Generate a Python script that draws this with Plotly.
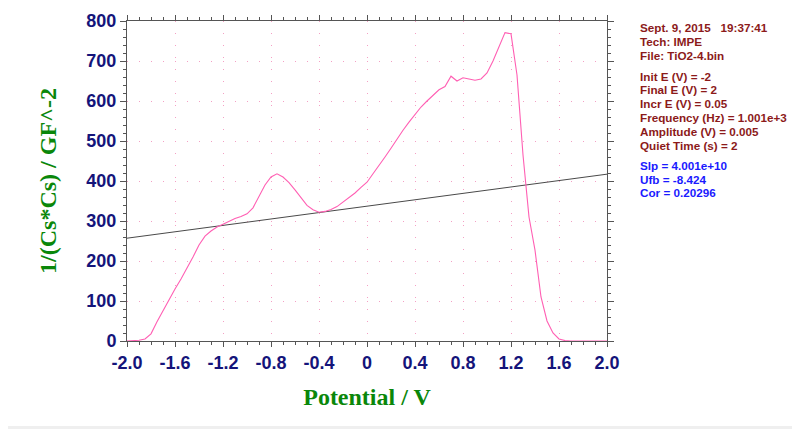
import plotly.graph_objects as go

potential = [round(-2 + 0.05 * i, 2) for i in range(81)]
inv_cs2 = [
    0, 1, 2, 5, 18, 48, 76, 104, 130, 155,
    182, 210, 240, 262, 275, 285, 292, 300, 306, 311,
    318, 333, 360, 390, 410, 418, 410, 396, 378, 358,
    339, 328, 322, 324, 329, 336, 347, 358, 370, 384,
    397, 418, 438, 460, 482, 505, 527, 547, 566, 585,
    600, 615, 628, 636, 662, 650, 658, 655, 652, 655,
    670, 700, 738, 771, 768, 665, 465, 310, 227, 110,
    50, 20, 5, 1, 0, 0, 0, 0, 0, 0,
    0,
]
fit_x = [-2.0, 2.0]
fit_slope = 40.01
fit_ufb = -8.424
fit_y = [fit_slope * (x - fit_ufb) for x in fit_x]

info_red = [
    "Sept. 9, 2015   19:37:41",
    "Tech: IMPE",
    "File: TiO2-4.bin",
    "Init E (V) = -2",
    "Final E (V) = 2",
    "Incr E (V) = 0.05",
    "Frequency (Hz) = 1.001e+3",
    "Amplitude (V) = 0.005",
    "Quiet Time (s) = 2",
]
info_red_y = [27.7, 41.7, 55.7, 76.7, 90.0, 103.7, 117.3, 131.3, 145.0]
info_blue = ["Slp = 4.001e+10", "Ufb = -8.424", "Cor = 0.20296"]
info_blue_y = [165.0, 179.3, 192.7]

x_ticks = [-2.0, -1.6, -1.2, -0.8, -0.4, 0.0, 0.4, 0.8, 1.2, 1.6, 2.0]
x_tick_text = ["-2.0", "-1.6", "-1.2", "-0.8", "-0.4", "0", "0.4", "0.8", "1.2", "1.6", "2.0"]

# the page body adds an 8px offset; lay out in screen pixels minus that offset
OFF = 8
W, H = 800 - OFF, 429 - OFF
L, T = 127 - OFF, 21 - OFF
R = W - (607 - OFF)
B = H - (341 - OFF)
plot_h = H - T - B
plot_w = W - L - R

fig = go.Figure()
fig.add_trace(go.Scatter(x=fit_x, y=fit_y, mode="lines",
                         line=dict(color="#4a4a4a", width=1), hoverinfo="skip"))
fig.add_trace(go.Scatter(x=potential, y=inv_cs2, mode="lines",
                         line=dict(color="#ff5fb3", width=1.1)))

tick_font = dict(family="Liberation Sans, Arial", size=18, color="#14147a", weight="bold")
title_font = dict(family="Liberation Serif, Times New Roman", size=24, color="#0a870a", weight="bold")

fig.update_xaxes(
    range=[-2, 2], tickvals=x_ticks, ticktext=x_tick_text, automargin=False,
    showline=True, linecolor="#555555", linewidth=1, mirror="allticks",
    ticks="outside", ticklen=5, tickcolor="#555555",
    minor=dict(dtick=0.1, ticks="outside", ticklen=3, tickcolor="#555555", showgrid=False),
    showgrid=True, gridcolor="#f4a0c4", griddash="1px,11px", gridwidth=1,
    zeroline=False, tickfont=tick_font, layer="below traces",
    title=dict(text="Potential / V", font=title_font, standoff=16),
)
fig.update_yaxes(
    range=[0, 800], dtick=100, automargin=False,
    showline=True, linecolor="#555555", linewidth=1, mirror="allticks",
    ticks="outside", ticklen=6, tickcolor="#555555",
    minor=dict(dtick=20, ticks="outside", ticklen=3, tickcolor="#555555", showgrid=False),
    showgrid=True, gridcolor="#f4a0c4", griddash="1px,11px", gridwidth=1,
    zeroline=False, tickfont=tick_font, layer="below traces",
    title=dict(text="1/(Cs*Cs) / GF^-2", font=title_font, standoff=22),
)

annotations = []
for txt, yp in zip(info_red, info_red_y):
    annotations.append(dict(text=txt, xref="paper", yref="paper",
                            x=(638 - 127) / plot_w, y=(341 - yp) / plot_h,
                            xanchor="left", yanchor="middle", showarrow=False,
                            font=dict(family="Liberation Sans, Arial", size=11.7,
                                      color="#8c1a1a", weight="bold")))
for txt, yp in zip(info_blue, info_blue_y):
    annotations.append(dict(text=txt, xref="paper", yref="paper",
                            x=(638 - 127) / plot_w, y=(341 - yp) / plot_h,
                            xanchor="left", yanchor="middle", showarrow=False,
                            font=dict(family="Liberation Sans, Arial", size=11.7,
                                      color="#1a1aff", weight="bold")))

fig.update_layout(
    width=W, height=H, margin=dict(l=L, r=R, t=T, b=B, autoexpand=False),
    paper_bgcolor="white", plot_bgcolor="white", showlegend=False,
    annotations=annotations,
    shapes=[dict(type="rect", xref="paper", yref="paper",
                 x0=-L / plot_w, x1=(W - L) / plot_w,
                 y0=-(B) / plot_h, y1=-(B - 3) / plot_h,
                 fillcolor="#efefef", line=dict(width=0), layer="below")],
)

fig.write_html("out.html", config={"displayModeBar": False})
